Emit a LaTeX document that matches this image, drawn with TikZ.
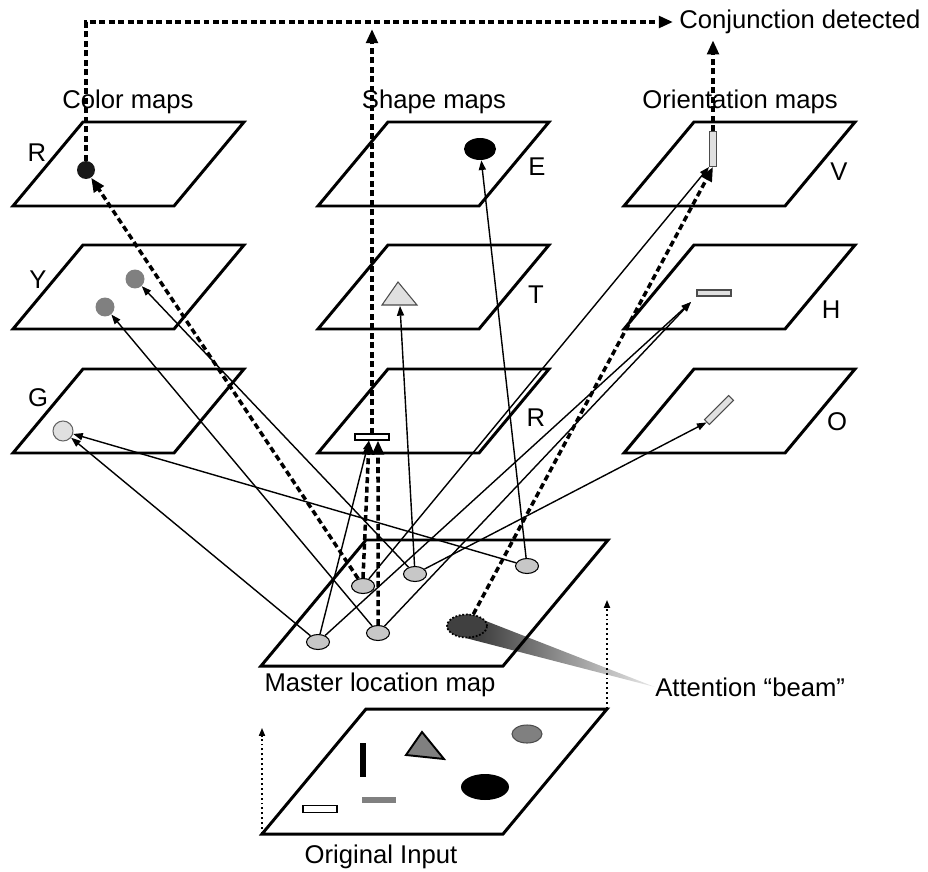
\documentclass[tikz,border=0pt]{standalone}
\usepackage{fontspec}
\setmainfont{Liberation Sans}
\usetikzlibrary{arrows.meta,shapes.geometric,backgrounds}

\tikzset{
  plane/.style={line width=1.7pt, line join=miter},
  link/.style={line width=0.8pt, -{Triangle[length=5.5pt,width=4pt]}},
  attn/.style={line width=2pt, dash pattern=on 3.4pt off 2pt, -{Triangle[length=8pt,width=6.5pt]}},
  feed/.style={line width=0.75pt, dash pattern=on 1.1pt off 1.7pt, -{Triangle[length=4.5pt,width=3.5pt]}},
  loc/.style={draw, ellipse, fill=black!22, line width=0.6pt, inner sep=0, minimum width=0.46cm, minimum height=0.30cm},
  dot/.style={circle, inner sep=0, minimum size=#1},
  bar/.style={draw, rectangle, inner sep=0, line width=0.6pt},
  lbl/.style={font=\fontsize{14.6}{17}\selectfont, inner sep=0},
}

% one feature plane, given by its lower left corner
\newcommand\featmap[2]{\draw[plane] (#1,#2) -- ++(161,0) -- ++(70,-84) -- ++(-161,0) -- cycle;}

\begin{document}
\begin{tikzpicture}[x=0.02cm, y=-0.02cm]
	\useasboundingbox (0,0) rectangle (928,871);

	% feature planes
	\featmap{13}{206} \featmap{13}{329} \featmap{13}{453}
	\featmap{318}{206} \featmap{318}{329} \featmap{318}{453}
	\featmap{624}{206} \featmap{624}{329} \featmap{624}{453}
	\draw[plane] (261,666) -- ++(242,0) -- ++(105,-126) -- ++(-242,0) -- cycle;
	\draw[plane] (262,834) -- ++(241,0) -- ++(104,-125) -- ++(-241,0) -- cycle;

	\node[lbl] (hColor) at (128,102) {Color maps};
	\node[lbl] (hShape) at (434,102) {Shape maps};
	\node[lbl] (hOrient) at (740,102) {Orientation maps};
	\node[lbl, anchor=west, inner sep=3.4pt] (conj) at (673,22) {Conjunction detected};
	\node[lbl] (master) at (380,685) {Master location map};
	\node[lbl] (input) at (381,857) {Original Input};
	\node[lbl, anchor=west] (beam) at (655,687) {Attention “beam”};

	\node[lbl] (lR) at (37,153) {R};
	\node[lbl] (lY) at (38,280) {Y};
	\node[lbl] (lG) at (38,398) {G};
	\node[lbl] (lE) at (537,167) {E};
	\node[lbl] (lT) at (536,295) {T};
	\node[lbl] (lRect) at (536,418) {R};
	\node[lbl] (lV) at (839,172) {V};
	\node[lbl] (lH) at (831,310) {H};
	\node[lbl] (lO) at (837,422) {O};

	% color maps
	\node[dot=0.36cm, fill=black!90] (cR) at (86,170) {};
	\node[dot=0.38cm, fill=black!50] (cY1) at (135,279) {};
	\node[dot=0.38cm, fill=black!50] (cY2) at (105,307) {};
	\node[dot=0.40cm, draw=black!60, fill=black!12, line width=0.6pt] (cG) at (63,431) {};
	% shape maps
	\node[ellipse, fill=black, inner sep=0, minimum width=0.64cm, minimum height=0.44cm] (sE) at (480,149) {};
	\draw[fill=black!12, draw=black!70, line width=0.6pt] (382,305) -- (398,282) -- (417,305) -- cycle;
	\coordinate (sT) at (400,306);
	\node[bar, fill=white, minimum width=0.68cm, minimum height=0.12cm] (sR) at (372,437) {};
	% orientation maps
	\node[bar, fill=black!12, draw=black!70, minimum width=0.14cm, minimum height=0.70cm] (oV) at (713,149) {};
	\node[bar, fill=black!12, draw=black!70, minimum width=0.68cm, minimum height=0.12cm] (oH) at (714,293) {};
	\node[bar, fill=black!12, draw=black!70, minimum width=0.68cm, minimum height=0.14cm, rotate=45] (oO) at (719,410) {};
	\coordinate (hIn) at (691,302);

	% master map
	\node[loc] (e1) at (318,642) {};
	\node[loc] (e2) at (378,633) {};
	\node[loc] (e3) at (363,586) {};
	\node[loc] (e4) at (415,574) {};
	\node[loc] (e5) at (527,566) {};
	\node[ellipse, draw, densely dotted, line width=1pt, fill=black!75, inner sep=0, minimum width=0.8cm, minimum height=0.46cm] (att) at (467,626) {};
	\begin{scope}[on background layer]
		\shade[left color=black!80, right color=black!8] (att.north) -- (beam.west) -- (att.south) -- cycle;
	\end{scope}

	% original input
	\node[fill=black, inner sep=0, minimum width=0.12cm, minimum height=0.68cm] (iV) at (363,760) {};
	\draw[fill=black!50, line width=1.1pt] (406,755) -- (422,732) -- (444,759) -- cycle;
	\node[ellipse, draw=black!70, fill=black!50, line width=0.6pt, inner sep=0, minimum width=0.6cm, minimum height=0.36cm] (iG) at (527,734) {};
	\node[ellipse, fill=black, inner sep=0, minimum width=0.96cm, minimum height=0.52cm] (iE) at (485,787) {};
	\node[fill=black!50, inner sep=0, minimum width=0.68cm, minimum height=0.12cm] (iH) at (379,800) {};
	\node[bar, fill=white, minimum width=0.68cm, minimum height=0.14cm] (iW) at (320,809) {};
	\coordinate (inBL) at (262,834);
	\coordinate (inTR) at (607,709);
	\coordinate (upL) at (262,728);
	\coordinate (upR) at (607,600);

	\draw[feed] (inBL) -- (upL);
	\draw[feed] (inTR) -- (upR);

	% conjunction output
	\coordinate (cTop) at (cR.north |- conj.west);
	\draw[attn] (cR.north) -- (cTop) -- (conj.west);
	\draw[attn, shorten >=4pt] (sR.north) -- (sR.north |- cTop);
	\draw[attn] (oV.north) -- (oV.north |- conj.south);

	\draw[link] (e1) -- (cG);
	\draw[link] (e5) -- (cG);
	\draw[link] (e2) -- (cY2);
	\draw[link] (e4) -- (cY1);
	\draw[link] (e4) -- (sT);
	\draw[link] (e5) -- (sE);
	\draw[link] (e1) -- ([xshift=-0.06cm]sR.south);
	\draw[link] (e3) -- (oV.south west);
	\draw[link] (e1) -- (hIn);
	\draw[link] (e2) -- (hIn);
	\draw[link] (e4) -- (oO.west);

	\draw[attn] (e3) -- (cR);
	\draw[attn] (e3.north) -- ([xshift=-0.06cm]sR.south);
	\draw[attn] (e2.north) -- ([xshift=0.12cm]sR.south);
	\draw[attn] (att) -- (oV.south);
\end{tikzpicture}
\end{document}
